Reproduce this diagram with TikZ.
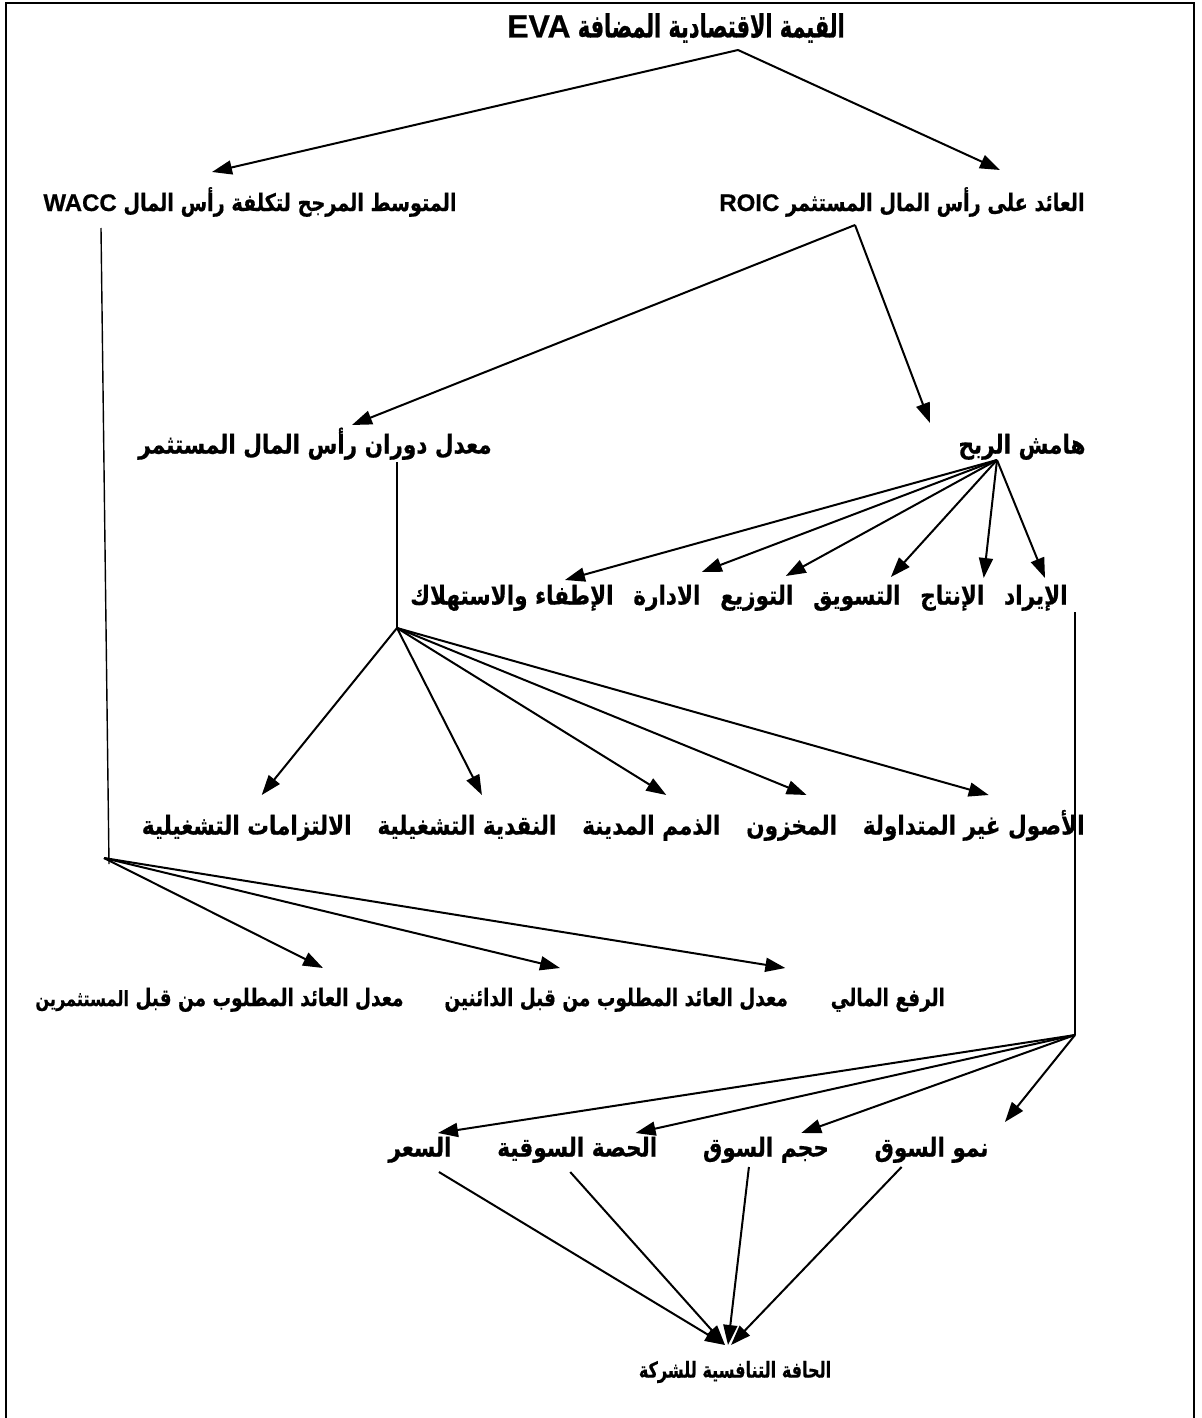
\documentclass[tikz,border=0pt]{standalone}
\usepackage{fontspec}
\usetikzlibrary{arrows.meta,calc}
\TeXXeTstate=1
\newfontfamily\arfont[Script=Arabic,FakeStretch=0.83,FakeBold=0.5]{DejaVu Sans}
\newfontfamily\arsub[Script=Arabic,FakeStretch=0.8,FakeBold=0.5]{DejaVu Sans}
\newfontfamily\arrowc[Script=Arabic,FakeStretch=0.77,FakeBold=0.5]{DejaVu Sans}
\newfontfamily\artop[Script=Arabic,FakeStretch=0.65,FakeBold=0.7]{DejaVu Sans}
\newfontfamily\aredge[Script=Arabic,FakeStretch=0.73,FakeBold=0.5]{DejaVu Sans}
\newfontfamily\latfont[FakeBold=0.5]{Liberation Sans}
\newcommand{\AR}[1]{\beginR #1\endR}
\newcommand{\LT}[1]{\beginL{\latfont\bfseries #1}\endL}
\begin{document}
\begin{tikzpicture}[x=0.5pt,y=-0.5pt,
  lab/.style={font=\arfont\bfseries\fontsize{13}{15}\selectfont, inner sep=0pt, text height=9.5pt, text depth=3pt},
  rowc/.style={font=\arrowc\bfseries\fontsize{12}{14}\selectfont, inner sep=0pt, text height=9pt, text depth=3pt},
  sublab/.style={font=\arsub\bfseries\fontsize{12}{14}\selectfont, inner sep=0pt, text height=9pt, text depth=3pt},
  toplab/.style={font=\artop\bfseries\fontsize{16}{18}\selectfont, inner sep=0pt},
  edgelab/.style={font=\aredge\bfseries\fontsize{11}{13}\selectfont, inner sep=0pt},
  arr/.style={line width=1pt, -{Triangle[length=10pt,width=7pt]}},
  ln/.style={line width=0.7pt},
  frame/.style={line width=1.3pt}]
\useasboundingbox (0,0) rectangle (1201,1418);
\draw[frame] (6,1418) -- (6,3) -- (1194,3) -- (1194,1418);

% top levels
\node[toplab] (title) at (676,28) {\AR{القيمة الاقتصادية المضافة \LT{EVA}}};
\node[sublab] (wacc) at (250,205) {\AR{المتوسط المرجح لتكلفة رأس المال \LT{WACC}}};
\node[sublab] (roic) at (902,205) {\AR{العائد على رأس المال المستثمر \LT{ROIC}}};
\node[lab] (turn) at (315,447) {\AR{معدل دوران رأس المال المستثمر}};
\node[lab] (marg) at (1022,447) {\AR{هامش الربح}};

% row 1
\node[lab, anchor=east] (iyrad) at (1068,598) {\AR{الإيراد}};
\node[lab, anchor=east] (intaj) at ($(iyrad.west)+(-19,0)$) {\AR{الإنتاج}};
\node[lab, anchor=east] (taswiq) at ($(intaj.west)+(-19,0)$) {\AR{التسويق}};
\node[lab, anchor=east] (tawzi) at ($(taswiq.west)+(-19,0)$) {\AR{التوزيع}};
\node[lab, anchor=east] (idara) at ($(tawzi.west)+(-19,0)$) {\AR{الادارة}};
\node[lab, anchor=east] (itfa) at ($(idara.west)+(-19,0)$) {\AR{الإطفاء والاستهلاك}};

% row 2
\node[lab, anchor=east] (asul) at (1085,828) {\AR{الأصول غير المتداولة}};
\node[lab, anchor=east] (makh) at ($(asul.west)+(-25,0)$) {\AR{المخزون}};
\node[lab, anchor=east] (dhim) at ($(makh.west)+(-25,0)$) {\AR{الذمم المدينة}};
\node[lab, anchor=east] (naqd) at ($(dhim.west)+(-25,0)$) {\AR{النقدية التشغيلية}};
\node[lab, anchor=east] (iltz) at ($(naqd.west)+(-25,0)$) {\AR{الالتزامات التشغيلية}};

% row 3
\node[rowc, anchor=west] (must) at (35,1000) {\AR{معدل العائد المطلوب من قبل {\fontsize{10.5}{12}\selectfont المستثمرين}}};
\node[rowc, anchor=west] (dain) at ($(must.east)+(40,0)$) {\AR{معدل العائد المطلوب من قبل الدائنين}};
\node[rowc, anchor=west] (rafa) at ($(dain.east)+(42,0)$) {\AR{الرفع المالي}};

% row 4
\node[lab, anchor=west] (sir) at (388,1150) {\AR{السعر}};
\node[lab, anchor=west] (hisa) at ($(sir.east)+(45,0)$) {\AR{الحصة السوقية}};
\node[lab, anchor=west] (hajm) at ($(hisa.east)+(45,0)$) {\AR{حجم السوق}};
\node[lab, anchor=west] (numw) at ($(hajm.east)+(45,0)$) {\AR{نمو السوق}};

\node[edgelab] (edge) at (735,1372) {\AR{الحافة التنافسية للشركة}};

% fan points
\coordinate (wfan) at (104,858);
\coordinate (tfan) at (397,628);
\coordinate (rfan) at (1075,1035);
\coordinate (bfan) at (725,1345);

% level 1
\draw[arr] ($(title)+(62,22)$) -- ($(wacc)+(-38,-33)$);
\draw[arr] ($(title)+(62,22)$) -- ($(roic)+(98,-35)$);
% ROIC
\draw[arr] ($(roic)+(-47,20)$) -- ($(turn)+(37,-22)$);
\draw[arr] ($(roic)+(-47,20)$) -- ($(marg)+(-92,-24)$);
% margin fan
\draw[arr] ($(marg)+(-25,13)$) -- ($(itfa.east)+(-49,-18)$);
\draw[arr] ($(marg)+(-25,13)$) -- ($(idara.east)+(1,-26)$);
\draw[arr] ($(marg)+(-25,13)$) -- ($(tawzi.east)+(-8,-22)$);
\draw[arr] ($(marg)+(-25,13)$) -- ($(taswiq.east)+(-10,-21)$);
\draw[arr] ($(marg)+(-25,13)$) -- ($(intaj.east)+(-1,-20)$);
\draw[arr] ($(marg)+(-25,13)$) -- ($(iyrad.east)+(-23,-20)$);
% turnover
\draw[ln] ($(turn)+(82,15)$) -- (tfan);
\draw[arr] (tfan) -- ($(iltz)+(15,-33)$);
\draw[arr] (tfan) -- ($(naqd)+(15,-33)$);
\draw[arr] (tfan) -- ($(dhim)+(15,-33)$);
\draw[arr] (tfan) -- ($(makh)+(15,-33)$);
\draw[arr] (tfan) -- ($(asul)+(15,-33)$);
% WACC
\draw[ln] ($(wacc)+(-149,23)$) -- ($(wfan)+(5,6)$);
\draw[arr] (wfan) -- ($(must.west)+(288,-32)$);
\draw[arr] (wfan) -- ($(dain.west)+(116,-32)$);
\draw[arr] (wfan) -- ($(dain.east)+(-3,-32)$);
% right line
\draw[ln] ($(iyrad.east)+(7,14)$) -- (rfan);
\draw[arr] (rfan) -- ($(sir)+(18,-17)$);
\draw[arr] (rfan) -- ($(hisa.east)+(-22,-17)$);
\draw[arr] (rfan) -- ($(hajm.east)+(-28,-17)$);
\draw[arr] (rfan) -- ($(numw.east)+(16,-28)$);
% converge
\draw[arr] ($(sir)+(19,22)$) -- (bfan);
\draw[arr] ($(hisa)+(-7,22)$) -- (bfan);
\draw[arr] ($(hajm)+(-17,17)$) -- ($(bfan)+(3,0)$);
\draw[arr] ($(numw)+(-30,17)$) -- ($(bfan)+(6,0)$);
\end{tikzpicture}
\end{document}
